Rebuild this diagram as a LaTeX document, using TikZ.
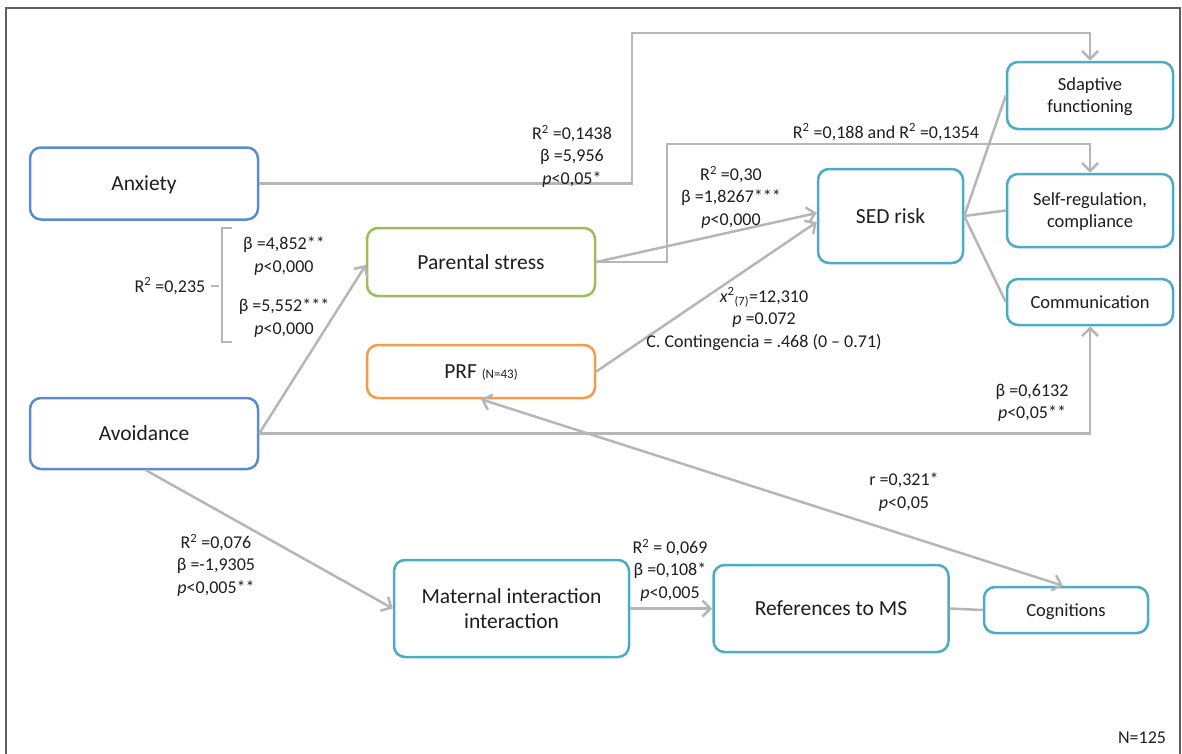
\documentclass[tikz,border=0pt]{standalone}
\usepackage{fontspec}
\setmainfont{Carlito}
\usetikzlibrary{arrows.meta,calc}
\definecolor{edgegray}{RGB}{182,182,182}
\definecolor{nblue}{RGB}{92,140,204}
\definecolor{ngreen}{RGB}{155,190,90}
\definecolor{norange}{RGB}{247,155,75}
\definecolor{naqua}{RGB}{75,172,198}
\definecolor{inkgray}{RGB}{30,30,30}
\definecolor{framegray}{RGB}{95,95,95}

\begin{document}
\begin{tikzpicture}[x=1pt,y=-1pt,
  box/.style={draw, fill=white, rounded corners=11pt, line width=2.5pt, align=center,
              text=inkgray, inner sep=2pt, text depth=0pt},
  bigtext/.style={font=\fontsize{21.5}{25}\selectfont},
  smalltext/.style={font=\fontsize{18.5}{22}\selectfont},
  stat/.style={align=center, text=inkgray, font=\fontsize{18}{22.5}\selectfont, inner sep=0pt},
  link/.style={draw=edgegray, line width=2.5pt},
  arr/.style={link, -{Straight Barb[length=8pt,width=16pt]}},
  dblarr/.style={link, {Straight Barb[length=8pt,width=16pt]}-{Straight Barb[length=8pt,width=16pt]}},
  bracket/.style={draw=edgegray, line width=2pt}
]
\useasboundingbox (0,0) rectangle (1182,753);

% outer frame
\draw[framegray, line width=2pt] (6,770) -- (6,8) -- (1180,8) -- (1180,770);

% boxes
\node[box, bigtext, draw=nblue, minimum width=228pt, minimum height=72pt] (anx) at (144,183.5) {Anxiety};
\node[box, bigtext, draw=nblue, minimum width=228pt, minimum height=71pt] (av) at (144,433.5) {Avoidance};
\node[box, bigtext, draw=ngreen, minimum width=228pt, minimum height=68pt] (ps) at (481,262) {Parental stress};
\node[box, bigtext, draw=norange, minimum width=228pt, minimum height=53pt] (prf) at (481,371.5)
  {PRF {\fontsize{13}{15}\selectfont (N=43)}};
\node[box, bigtext, draw=naqua, minimum width=145pt, minimum height=94pt] (sed) at (890.5,216) {SED risk};
\node[box, smalltext, draw=naqua, minimum width=166pt, minimum height=67pt] (sdap) at (1090,95.5) {Sdaptive\\functioning};
\node[box, smalltext, draw=naqua, minimum width=166pt, minimum height=73pt] (selfreg) at (1090,210.5) {Self-regulation,\\compliance};
\node[box, smalltext, draw=naqua, minimum width=166pt, minimum height=46pt] (comm) at (1090,302) {Communication};
\node[box, bigtext, draw=naqua, minimum width=235pt, minimum height=97pt] (mat) at (511.5,608.5) {Maternal interaction\\interaction};
\node[box, bigtext, draw=naqua, minimum width=235pt, minimum height=87pt] (refs) at (831,608.5) {References to MS};
\node[box, smalltext, draw=naqua, minimum width=164pt, minimum height=46pt] (cog) at (1066,610) {Cognitions};

% elbow routes
\coordinate (anxbend) at (632,33);
\coordinate (psbend) at (667,144);

% connectors
\draw[arr] (anx.east) -| (anxbend) -| (sdap.north);
\draw[arr] (ps.east) -| (psbend) -| (selfreg.north);
\draw[arr] (ps.east) -- ($(sed.west)+(0,-3)$);
\draw[arr] (prf.east) -- ($(sed.west)+(0,6)$);
\draw[arr] (av.east) -- ($(ps.west)+(0,3)$);
\draw[arr] (av.east) -| (comm.south);
\draw[arr] ($(av.south)+(2,0)$) -- (mat.west);
\draw[arr] (mat.east) -- (refs.west);
\draw[link] (refs.east) -- (cog.west);
\draw[dblarr] (prf.south) -- ($(cog.north)+(-3,0)$);
\draw[link] (sed.east) -- (sdap.west);
\draw[link] (sed.east) -- (selfreg.west);
\draw[link] (sed.east) -- (comm.west);

% statistics
\node[stat] (sanx) at (572,156) {R\textsuperscript{2} =0,1438\\β =5,956\\\textit{p}<0,05*};
\node[stat] (sps) at (731,197) {R\textsuperscript{2} =0,30\\β =1,8267***\\\textit{p}<0,000};
\node[stat] (ssr) at (886,132) {R\textsuperscript{2} =0,188 and R\textsuperscript{2} =0,1354};
\node[stat] (sprf) at (764,319) {\textit{x}\textsuperscript{2}\textsubscript{(7)}=12,310\\\textit{p} =0.072\\C. Contingencia = .468 (0 – 0.71)};
\node[stat] (scomm) at (1032,403) {β =0,6132\\\textit{p}<0,05**};
\node[stat] (scog) at (904,492) {r =0,321*\\\textit{p}<0,05};
\node[stat] (sb1) at (284,256) {β =4,852**\\\textit{p}<0,000};
\node[stat] (sb2) at (284,318) {β =5,552***\\\textit{p}<0,000};
\node[stat] (sr2) at (170,286) {R\textsuperscript{2} =0,235};
\node[stat] (smat) at (216,565) {R\textsuperscript{2} =0,076\\β =-1,9305\\\textit{p}<0,005**};
\node[stat] (srefs) at (670,570) {R\textsuperscript{2} = 0,069\\β =0,108*\\\textit{p}<0,005};
\node[stat] (nall) at (1142,738) {N=125};

% brace grouping the two avoidance/anxiety coefficients
\draw[bracket] (232,228) -- (222,228) -- (222,342) -- (232,342);
\draw[bracket] ($(sr2.east)+(5,0)$) -- (219,286);
\end{tikzpicture}
\end{document}
